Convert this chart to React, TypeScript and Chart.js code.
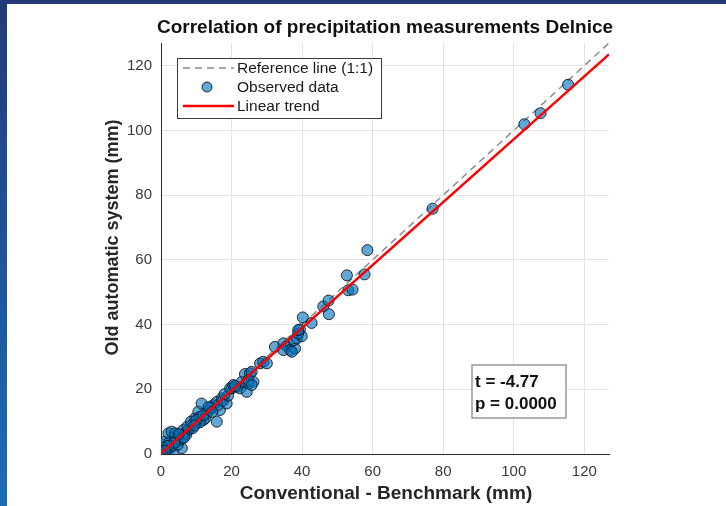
import React, { useEffect, useRef } from "react";
import { Chart, registerables } from "chart.js";

Chart.register(...registerables);

// ---- data ----
const obsX = [
  0, 0.3, 0.5, 0.7, 0.2, 1.0, 1.5, 0.8, 2.1, 2.6, 3.5, 1.1, 2.6, 4.5, 4.0, 2.1, 3.0, 4.0, 5.4, 5.9,
  3.2, 4.8, 6.3, 6.8, 7.7, 5.5, 6.0, 7.2, 8.0, 8.7, 9.6, 10.1, 9.0, 10.6, 11.1, 12.0, 11.5, 13.0, 13.9, 12.5,
  11.0, 14.8, 15.8, 16.7, 15.8, 17.2, 18.6, 16.0, 17.5, 14.0, 19.0, 18.0, 20.1, 21.5, 19.6, 20.5, 22.4, 22.9, 23.8, 24.3,
  24.8, 25.2, 25.7, 26.2, 24.8, 25.7, 21.0, 28.1, 29.0, 30.0, 32.3, 34.7, 35.6, 36.6, 34.7, 38.0, 37.1, 37.7, 38.5, 39.9,
  38.9, 39.4, 38.9, 40.2, 42.7, 46.0, 47.5, 47.6, 53.1, 54.3, 52.7, 57.7, 58.5, 77.0, 103.0, 107.6, 115.4,
  7.5, 8.5, 10.0, 12.0, 13.5, 14.5, 9.5, 6.5, 3.8, 5.0, 2.0, 1.2,
];
const obsY = [
  0, 0.5, 1.2, 0.7, 3.0, 2.2, 0.4, 1.8, 1.8, 1.8, 0.7, 3.8, 3.8, 3.8, 5.3, 6.4, 6.9, 6.4, 5.9, 1.8,
  2.5, 2.9, 7.4, 6.4, 7.4, 4.5, 5.0, 6.0, 7.8, 9.0, 11.0, 9.5, 8.0, 13.1, 11.5, 10.5, 15.6, 12.6, 13.6, 11.0,
  9.8, 15.1, 16.1, 13.6, 10.0, 17.2, 15.6, 15.0, 16.5, 14.2, 18.0, 18.5, 20.3, 20.8, 20.3, 21.3, 20.3, 22.3, 24.7, 19.2,
  21.8, 24.9, 25.4, 22.3, 22.8, 21.3, 21.0, 28.0, 28.5, 28.0, 33.1, 34.2, 33.3, 32.1, 32.1, 32.6, 31.6, 35.2, 35.7, 36.4,
  37.2, 38.5, 38.3, 42.2, 40.5, 45.6, 47.4, 43.2, 50.6, 50.8, 55.2, 55.5, 63.0, 75.8, 101.9, 105.3, 114.1,
  8.5, 10.0, 10.5, 12.0, 14.5, 13.0, 8.8, 5.0, 3.5, 6.2, 2.5, 1.0,
];
const refX = [0, 127];
const refY = [0, 127];
const trendX = [0, 127];
const trendY = [0.1, 123.5];

const axisMin = 0;
const axisMax = 127;
const tickStep = 20;

const titleText = "Correlation of precipitation measurements Delnice";
const xTitleText = "Conventional - Benchmark (mm)";
const yTitleText = "Old automatic system (mm)";
const legendLabels = ["Reference line (1:1)", "Observed data", "Linear trend"];
const statLines = ["t = -4.77", "p = 0.0000"];

const FONT = "'Liberation Sans', Arial, Helvetica, sans-serif";
const POINT_FILL = "rgba(0,114,189,0.62)";
const POINT_EDGE = "rgba(15,25,35,0.9)";

const overlayPlugin = {
  id: "overlay",
  afterDraw(chart: any) {
    const ctx = chart.ctx as CanvasRenderingContext2D;
    const ca = chart.chartArea;
    const cx = (ca.left + ca.right) / 2;
    const cy = (ca.top + ca.bottom) / 2;
    ctx.save();
    // title
    ctx.fillStyle = "#111";
    ctx.textAlign = "center";
    ctx.textBaseline = "middle";
    ctx.font = `bold 19px ${FONT}`;
    ctx.fillText(titleText, cx, ca.top - 15);
    // x title
    ctx.fillStyle = "#262626";
    ctx.font = `bold 19px ${FONT}`;
    ctx.fillText(xTitleText, cx + 1, ca.bottom + 40);
    // y title
    ctx.font = `bold 18px ${FONT}`;
    ctx.save();
    ctx.translate(ca.left - 48, cy - 11);
    ctx.rotate(-Math.PI / 2);
    ctx.fillText(yTitleText, 0, 0);
    ctx.restore();

    // legend box
    const lx = ca.left + 16, ly = ca.top + 15, lw = 204, lh = 60;
    ctx.fillStyle = "#fff";
    ctx.fillRect(lx, ly, lw, lh);
    ctx.strokeStyle = "#3a3a3a";
    ctx.lineWidth = 1;
    ctx.strokeRect(lx + 0.5, ly + 0.5, lw, lh);
    ctx.font = `15.5px ${FONT}`;
    ctx.textAlign = "left";
    ctx.fillStyle = "#1a1a1a";
    const rows = [ly + 10, ly + 29, ly + 48];
    // row 1 dashed
    ctx.strokeStyle = "#8c8c8c";
    ctx.lineWidth = 1.5;
    ctx.setLineDash([7, 5]);
    ctx.beginPath();
    ctx.moveTo(lx + 6, rows[0]);
    ctx.lineTo(lx + 57, rows[0]);
    ctx.stroke();
    ctx.setLineDash([]);
    ctx.fillText(legendLabels[0], lx + 60, rows[0] + 1);
    // row 2 marker
    ctx.beginPath();
    ctx.arc(lx + 30, rows[1], 5, 0, Math.PI * 2);
    ctx.fillStyle = POINT_FILL;
    ctx.fill();
    ctx.strokeStyle = POINT_EDGE;
    ctx.lineWidth = 1;
    ctx.stroke();
    ctx.fillStyle = "#1a1a1a";
    ctx.fillText(legendLabels[1], lx + 60, rows[1] + 1);
    // row 3 red line
    ctx.strokeStyle = "#ff0000";
    ctx.lineWidth = 2.5;
    ctx.beginPath();
    ctx.moveTo(lx + 6, rows[2]);
    ctx.lineTo(lx + 57, rows[2]);
    ctx.stroke();
    ctx.fillText(legendLabels[2], lx + 60, rows[2] + 1);

    // stats box
    const sx = ca.left + 311, sy = 365, sw = 94, sh = 53;
    ctx.fillStyle = "#fff";
    ctx.fillRect(sx, sy, sw, sh);
    ctx.strokeStyle = "#999";
    ctx.lineWidth = 1.5;
    ctx.strokeRect(sx, sy, sw, sh);
    ctx.fillStyle = "#111";
    ctx.font = `bold 17px ${FONT}`;
    ctx.fillText(statLines[0], sx + 3, sy + 17);
    ctx.fillText(statLines[1], sx + 3, sy + 39);
    ctx.restore();
  },
};

export default function App() {
  const ref = useRef<HTMLCanvasElement | null>(null);
  useEffect(() => {
    if (!ref.current) return;
    const scatterData = obsX.map((x, i) => ({ x, y: obsY[i] }));
    const refData = refX.map((x, i) => ({ x, y: refY[i] }));
    const trendData = trendX.map((x, i) => ({ x, y: trendY[i] }));
    const axisCommon = {
      type: "linear" as const,
      min: axisMin,
      max: axisMax,
      grid: { color: "#e4e4e4", lineWidth: 1, drawTicks: false },
      border: { display: true, color: "#2b2b2b", width: 1 },
    };
    const chart = new Chart(ref.current, {
      type: "scatter",
      data: {
        datasets: [
          {
            label: legendLabels[2],
            data: trendData,
            showLine: true,
            borderColor: "#ff0000",
            borderWidth: 2.5,
            pointRadius: 0,
            order: 0,
          },
          {
            label: legendLabels[1],
            data: scatterData,
            backgroundColor: POINT_FILL,
            borderColor: POINT_EDGE,
            borderWidth: 1,
            pointRadius: 5.5,
            order: 1,
          },
          {
            label: legendLabels[0],
            data: refData,
            showLine: true,
            borderColor: "#8c8c8c",
            borderWidth: 1.5,
            borderDash: [7, 5],
            pointRadius: 0,
            order: 2,
          },
        ],
      },
      options: {
        responsive: false,
        animation: false,
        layout: { padding: { top: 43, right: 117, left: 0, bottom: 0 } },
        plugins: { legend: { display: false }, tooltip: { enabled: false }, title: { display: false } },
        scales: {
          x: {
            ...axisCommon,
            afterFit: (s: any) => { s.height = 52; },
            ticks: {
              stepSize: tickStep,
              includeBounds: false,
              autoSkip: false,
              maxRotation: 0,
              padding: 9,
              color: "#3a3a3a",
              font: { size: 15, family: FONT },
            },
          },
          y: {
            ...axisCommon,
            afterFit: (s: any) => { s.width = 161; },
            ticks: {
              stepSize: tickStep,
              includeBounds: false,
              autoSkip: false,
              padding: 9,
              color: "#3a3a3a",
              font: { size: 15, family: FONT },
            },
          },
        },
      },
      plugins: [overlayPlugin],
    });
    return () => chart.destroy();
  }, []);

  return (
    <div style={{ position: "absolute", left: 0, top: 0, width: 726, height: 506, background: "#fff", overflow: "hidden" }}>
      <canvas ref={ref} width={726} height={506} style={{ display: "block", width: 726, height: 506 }} />
      <div style={{ position: "absolute", left: 0, top: 0, width: 726, height: 4, background: "#243a7a" }} />
      <div style={{ position: "absolute", left: 0, top: 0, width: 7, height: 506, background: "linear-gradient(#243a7a, #1b6db4)" }} />
    </div>
  );
}
